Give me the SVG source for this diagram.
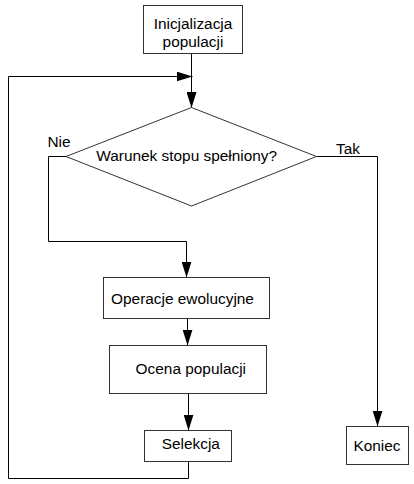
<svg xmlns="http://www.w3.org/2000/svg" width="414" height="484" viewBox="0 0 414 484">
<style>
.box{fill:#fff;stroke:#333;stroke-width:1}
.t{font-family:"Liberation Sans",Arial,sans-serif;font-size:15.4px;fill:#000}
.c{text-anchor:middle}
.edge{fill:none;stroke:#000;stroke-width:1}
</style>
<defs>
<marker id="arr" markerUnits="userSpaceOnUse" markerWidth="16" markerHeight="10" refX="16" refY="5" orient="auto">
<path d="M0,0 L16,5 L0,10 z" fill="#000"/>
</marker>
</defs>
<rect width="414" height="484" fill="#fff"/>
<g id="connectors">
<path class="edge" d="M191.5 53.5 V108" marker-end="url(#arr)"/>
<path class="edge" d="M188.5 461.5 V478.5 H8.5 V76.5 H192.5" marker-end="url(#arr)"/>
<path class="edge" d="M66 156.5 H48.5 V241.5 H186.5 V277.5" marker-end="url(#arr)"/>
<path class="edge" d="M316.5 156.5 H377.5 V426.5" marker-end="url(#arr)"/>
<path class="edge" d="M187.5 318.5 V345.5" marker-end="url(#arr)"/>
<path class="edge" d="M188.5 393.5 V430.5" marker-end="url(#arr)"/>
</g>
<g id="init">
<rect class="box" x="143.5" y="5.5" width="99" height="48"/>
<text class="t c" x="193" y="28.5">Inicjalizacja</text>
<text class="t c" x="193" y="46.5">populacji</text>
</g>
<g id="decision">
<polygon class="box" points="191.5,107.5 316.5,156.5 191.5,206 66,156.5"/>
<text class="t c" x="186.7" y="161">Warunek stopu spełniony?</text>
</g>
<g id="label-nie"><text class="t" x="47.5" y="146.5">Nie</text></g>
<g id="label-tak"><text class="t" x="336" y="154">Tak</text></g>
<g id="operacje">
<rect class="box" x="103.5" y="277.5" width="166" height="41"/>
<text class="t c" x="182.5" y="304">Operacje ewolucyjne</text>
</g>
<g id="ocena">
<rect class="box" x="109.5" y="345.5" width="157" height="48"/>
<text class="t c" x="190.8" y="374.3">Ocena populacji</text>
</g>
<g id="selekcja">
<rect class="box" x="144.5" y="430.5" width="87" height="31"/>
<text class="t c" x="190.8" y="449.3">Selekcja</text>
</g>
<g id="koniec">
<rect class="box" x="346.5" y="426.5" width="62" height="38"/>
<text class="t c" x="377" y="451.3">Koniec</text>
</g>
</svg>
